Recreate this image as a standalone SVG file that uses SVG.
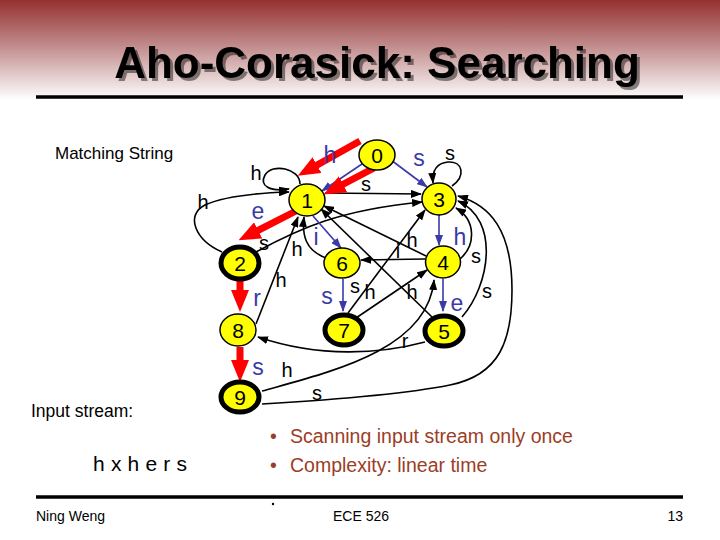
<svg xmlns="http://www.w3.org/2000/svg" width="720" height="540" viewBox="0 0 720 540">
<defs>
<linearGradient id="hdr" x1="0" y1="0" x2="0" y2="1">
<stop offset="0" stop-color="#963030"/>
<stop offset="0.45" stop-color="#c08a8a"/>
<stop offset="1" stop-color="#ffffff"/>
</linearGradient>
<filter id="sh" x="-5%" y="-20%" width="110%" height="140%">
<feOffset in="SourceAlpha" dx="2.5" dy="2.5" result="o"/>
<feComponentTransfer in="o" result="g"><feFuncA type="linear" slope="0.45"/></feComponentTransfer>
<feMerge><feMergeNode in="g"/><feMergeNode in="SourceGraphic"/></feMerge>
</filter>
<marker id="ab" markerUnits="userSpaceOnUse" markerWidth="11" markerHeight="8" refX="10" refY="4" orient="auto"><path d="M0,0 L11,4 L0,8 z" fill="#000"/></marker>
<marker id="au" markerUnits="userSpaceOnUse" markerWidth="11" markerHeight="8" refX="10" refY="4" orient="auto"><path d="M0,0 L11,4 L0,8 z" fill="#3a3aa8"/></marker>
<marker id="ar" markerUnits="userSpaceOnUse" markerWidth="22" markerHeight="18" refX="8" refY="9" orient="auto"><path d="M0,0 L22,9 L0,18 z" fill="#ff0000"/></marker>
</defs>
<style>
.t{font-family:"Liberation Sans",Arial,sans-serif}
.nd{fill:#ffff00;stroke:#000;stroke-width:1.5}
.fin{fill:#ffff00;stroke:#000;stroke-width:5}
.num{font-family:"Liberation Sans",Arial,sans-serif;font-size:21px;text-anchor:middle}
.bk{fill:none;stroke:#000;stroke-width:1.6;marker-end:url(#ab)}
.bl{fill:none;stroke:#3a3aa8;stroke-width:1.6;marker-end:url(#au)}
.rd{fill:none;stroke:#ff0000;stroke-width:7;marker-end:url(#ar)}
.lb{font-family:"Liberation Sans",Arial,sans-serif;font-size:20px;fill:#000;text-anchor:middle}
.lu{font-family:"Liberation Sans",Arial,sans-serif;font-size:23px;fill:#3a3aa8;text-anchor:middle}
.bul{font-family:"Liberation Sans",Arial,sans-serif;font-size:19.5px;fill:#9c3d26}
</style>
<rect x="0" y="0" width="720" height="540" fill="#fff"/>
<rect x="0" y="0" width="720" height="100" fill="url(#hdr)"/>
<text class="t" x="377" y="78" font-size="44" font-weight="bold" text-anchor="middle" fill="#000" filter="url(#sh)">Aho-Corasick: Searching</text>
<line x1="36" y1="97" x2="683" y2="97" stroke="#000" stroke-width="3.5"/>
<text class="t" x="55" y="159" font-size="17">Matching String</text>
<text class="t" x="31" y="417" font-size="17.5">Input stream:</text>
<text class="t" x="93" y="471" font-size="21" textLength="94">h x h e r s</text>
<text class="bul" x="270" y="443">•</text>
<text class="bul" x="290" y="443">Scanning input stream only once</text>
<text class="bul" x="270" y="472">•</text>
<text class="bul" x="290" y="472">Complexity: linear time</text>
<line x1="36" y1="497" x2="683" y2="497" stroke="#000" stroke-width="3.5"/>
<circle cx="273" cy="504" r="1.2" fill="#000"/>
<text class="t" x="36" y="521" font-size="14">Ning Weng</text>
<text class="t" x="333" y="521" font-size="14">ECE 526</text>
<text class="t" x="683" y="521" font-size="14" text-anchor="end">13</text>
<g id="connectors">
<path class="bk" d="M300,184 C300,168 272,163 265,175 C259,186 270,192 289,189"/>
<path class="bk" d="M222,252 C195,240 185,215 205,205 C225,196 255,193 289,192"/>
<path class="bk" d="M256,252 C300,228 340,210 422,202"/>
<path class="bk" d="M325,193 L421,194"/>
<path class="bk" d="M452,186 C466,176 463,161 448,162 C437,163 432,170 433,183"/>
<path class="bk" d="M460,259 C476,245 476,220 456,208"/>
<path class="bk" d="M462,317 C490,285 500,220 458,201"/>
<path class="bk" d="M262,404 C330,400 400,395 450,385 C500,375 512,340 512,290 C512,230 490,205 458,196"/>
<path class="bk" d="M262,391 C330,372 428,350 434,280"/>
<path class="bk" d="M425,342 C380,354 320,358 258,337"/>
<path class="bk" d="M256,324 L298,217"/>
<path class="bk" d="M326,258 C305,250 302,235 304,217"/>
<path class="bk" d="M426,256 L324,206"/>
<path class="bk" d="M425,259 L361,260"/>
<path class="bk" d="M348,313 L425,210"/>
<path class="bk" d="M356,318 L427,270"/>
<path class="bk" d="M432,317 L321,209"/>
<path class="bl" d="M362,164 L322,191"/>
<path class="bl" d="M391,160 L427,187"/>
<path class="bl" d="M313,216 L341,248"/>
<path class="bl" d="M439,215 L439,245"/>
<path class="bl" d="M443,279 L443,311"/>
<path class="bl" d="M343,279 L343,311"/>
<path class="rd" d="M360,141 L310,169"/>
<path class="rd" d="M374,168 L336,188"/>
<path class="rd" d="M296,211 L251,234"/>
<path class="rd" d="M240,279 L240,298"/>
<path class="rd" d="M240,347 L240,368"/>
<text class="lb" x="256" y="180">h</text>
<text class="lb" x="203" y="209">h</text>
<text class="lb" x="264" y="250">s</text>
<text class="lb" x="366" y="191">s</text>
<text class="lb" x="450" y="160">s</text>
<text class="lb" x="476" y="263">s</text>
<text class="lb" x="487" y="298">s</text>
<text class="lb" x="317" y="400">s</text>
<text class="lb" x="287" y="377">h</text>
<text class="lb" x="405" y="348">r</text>
<text class="lb" x="281" y="287">h</text>
<text class="lb" x="297" y="256">h</text>
<text class="lb" x="412" y="247">h</text>
<text class="lb" x="398" y="258">i</text>
<text class="lb" x="355" y="293">s</text>
<text class="lb" x="370" y="299">h</text>
<text class="lb" x="412" y="299">h</text>
<text class="lu" x="330" y="163">h</text>
<text class="lu" x="419" y="166">s</text>
<text class="lu" x="316" y="245">i</text>
<text class="lu" x="460" y="245">h</text>
<text class="lu" x="457" y="311">e</text>
<text class="lu" x="327" y="304">s</text>
<text class="lu" x="258" y="219">e</text>
<text class="lu" x="257" y="306">r</text>
<text class="lu" x="258" y="375">s</text>
</g>
<g id="n0"><ellipse class="nd" cx="377" cy="155" rx="18" ry="15"/><text class="num" x="377" y="163">0</text></g>
<g id="n1"><ellipse class="nd" cx="307" cy="200" rx="18" ry="16"/><text class="num" x="307" y="208">1</text></g>
<g id="n2"><ellipse class="fin" cx="240" cy="263" rx="19" ry="16"/><text class="num" x="240" y="271">2</text></g>
<g id="n3"><ellipse class="nd" cx="439" cy="199" rx="17" ry="16"/><text class="num" x="439" y="207">3</text></g>
<g id="n4"><ellipse class="nd" cx="443" cy="262" rx="17.5" ry="16"/><text class="num" x="443" y="270">4</text></g>
<g id="n5"><ellipse class="fin" cx="444" cy="331" rx="19" ry="15"/><text class="num" x="444" y="339">5</text></g>
<g id="n6"><ellipse class="nd" cx="342" cy="263" rx="18" ry="15"/><text class="num" x="342" y="271">6</text></g>
<g id="n7"><ellipse class="fin" cx="344" cy="330" rx="19" ry="15"/><text class="num" x="344" y="338">7</text></g>
<g id="n8"><ellipse class="nd" cx="238" cy="330" rx="18" ry="16"/><text class="num" x="238" y="338">8</text></g>
<g id="n9"><ellipse class="fin" cx="240" cy="397" rx="19" ry="15"/><text class="num" x="240" y="405">9</text></g>
</svg>
